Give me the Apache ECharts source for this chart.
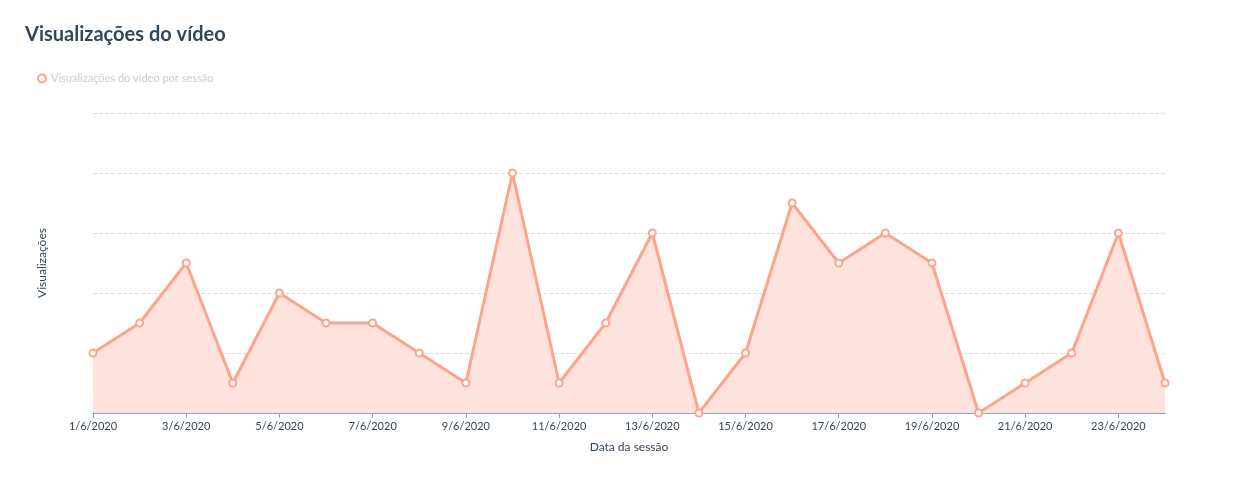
<!DOCTYPE html>
<html><head><meta charset="utf-8">
<script src="https://cdn.jsdelivr.net/npm/echarts@6/dist/echarts.min.js"></script>
<style>html,body{margin:0;padding:0;background:#fff}#c{width:1245px;height:490px}</style>
</head><body><div id="c"></div>
<script>
const categories = ['1/6/2020','2/6/2020','3/6/2020','4/6/2020','5/6/2020','6/6/2020','7/6/2020','8/6/2020','9/6/2020','10/6/2020','11/6/2020','12/6/2020','13/6/2020','14/6/2020','15/6/2020','16/6/2020','17/6/2020','18/6/2020','19/6/2020','20/6/2020','21/6/2020','22/6/2020','23/6/2020','24/6/2020'];
const views = [2,3,5,1,4,3,3,2,1,8,1,3,6,0,2,7,5,6,5,0,1,2,6,1];
const seriesName = 'Visualizações do vídeo por sessão';
const chart = echarts.init(document.getElementById('c'));
chart.setOption({
  animation:false,
  title:{text:'Visualizações do vídeo',left:20,top:20,textStyle:{fontFamily:'Lato',fontSize:20,fontWeight:'bold',color:'#33475b'}},
  legend:{left:32,top:68,icon:'circle',itemWidth:8,itemHeight:8,data:[seriesName],textStyle:{color:'#c8ccd2',fontSize:11,fontFamily:'Lato'}},
  grid:{left:93,right:80,top:113,bottom:77},
  xAxis:{type:'category',data:categories,boundaryGap:false,name:'Data da sessão',nameLocation:'middle',nameGap:28,
    nameTextStyle:{color:'#33475b',fontSize:12,fontFamily:'Lato'},
    axisLine:{lineStyle:{color:'#7fa8c9'}},axisTick:{show:true,interval:1,lineStyle:{color:'#7fa8c9'}},
    axisLabel:{interval:1,color:'#33475b',fontSize:11,fontFamily:'Lato'}},
  yAxis:{type:'value',min:0,max:10,interval:2,name:'Visualizações',nameLocation:'middle',nameGap:45,
    nameTextStyle:{color:'#33475b',fontSize:12,fontFamily:'Lato'},
    axisLabel:{show:false},axisLine:{show:false},axisTick:{show:false},
    splitLine:{lineStyle:{color:'#e0e0e0',type:'dashed'}}},
  series:[{name:seriesName,type:'line',data:views,symbol:'circle',symbolSize:7,
    lineStyle:{color:'#ffa48c',width:3},itemStyle:{color:'#fff',borderColor:'#ffa48c',borderWidth:2},
    areaStyle:{color:'#fee3dc',opacity:1}}],
  color:['#ffa48c']
});
</script></body></html>
